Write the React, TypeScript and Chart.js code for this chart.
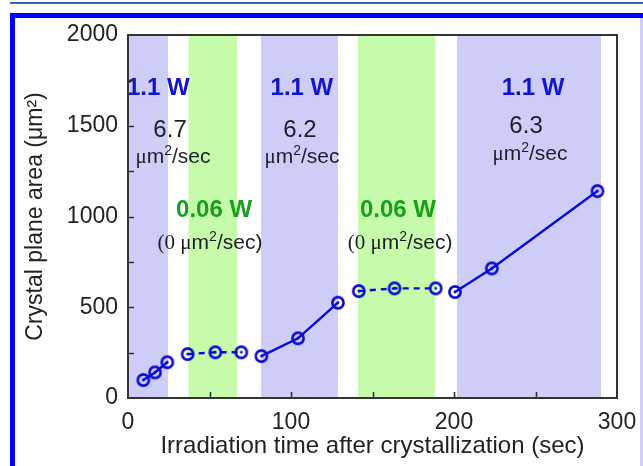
import React, { useEffect, useRef } from 'react';
import { Chart, registerables } from 'chart.js';

Chart.register(...registerables);

// ---- data ----
// 1.1 W segments (solid) and 0.06 W segments (dashed)
const time1 = [9.4, 16.6, 24.1];
const area1 = [99, 141, 197];
const time2 = [36.6, 53.6, 69.5];
const area2 = [242, 252, 252];
const time3 = [81.8, 104.3, 128.8];
const area3 = [231, 329, 525];
const time4 = [141.6, 163.5, 188.8];
const area4 = [589, 604, 604];
const time5 = [200.6, 223.2, 288.0];
const area5 = [584, 714, 1140];

// irradiation bands
const bandStart = [0, 37.1, 81.6, 141.1, 201.8];
const bandEnd = [24.5, 66.9, 128.8, 188.3, 290.2];
const bandPower = ['high', 'low', 'high', 'low', 'high'];

// annotations
const powerText = ['1.1 W', '1.1 W', '1.1 W', '0.06 W', '0.06 W'];
const powerKind = ['high', 'high', 'high', 'low', 'low'];
const powerX = [18.6, 106.7, 248.5, 52.8, 165.6];
const powerY = [1719, 1719, 1719, 1047, 1047];
const rateText = ['6.7', '6.2', '6.3'];
const rateX = [25.8, 105.5, 244.2];
const rateY = [1488, 1488, 1510];
const unitX = [27.6, 106.7, 246.6];
const unitY = [1339, 1339, 1355];
const zeroRateX = [50.3, 166.9];
const zeroRateY = [865, 865];

const xTickLabels = [0, 100, 200, 300];
const yTickLabels = [0, 500, 1000, 1500, 2000];

const SANS = '"Liberation Sans", Arial, Helvetica, sans-serif';
const SERIF = '"Liberation Serif", "Times New Roman", serif';
const LINE_BLUE = '#0a0ad2';
const BAND_BLUE = '#cdcdf8';
const BAND_GREEN = '#c6fbab';
const TXT_BLUE = '#1414cc';
const TXT_GREEN = '#18a01c';
const TXT_DARK = '#1e1e2a';

function makeMarker(color: string) {
  const c = document.createElement('canvas');
  c.width = 16;
  c.height = 16;
  const g = c.getContext('2d')!;
  g.strokeStyle = color;
  g.lineWidth = 2.6;
  g.beginPath();
  g.arc(8, 8, 5.6, 0, Math.PI * 2);
  g.stroke();
  g.fillStyle = color;
  g.beginPath();
  g.arc(8, 8, 1.4, 0, Math.PI * 2);
  g.fill();
  return c;
}

type Run = { t: string; f: string; s: number; w?: string; up?: number };

function drawRuns(ctx: CanvasRenderingContext2D, runs: Run[], cx: number, cy: number, color: string) {
  ctx.fillStyle = color;
  ctx.textBaseline = 'alphabetic';
  ctx.textAlign = 'left';
  let total = 0;
  let maxS = 0;
  const widths: number[] = [];
  for (const r of runs) {
    ctx.font = `${r.w || 'normal'} ${r.s}px ${r.f}`;
    const w = ctx.measureText(r.t).width;
    widths.push(w);
    total += w;
    maxS = Math.max(maxS, r.s);
  }
  let xx = cx - total / 2;
  const base = cy + maxS * 0.36;
  runs.forEach((r, i) => {
    ctx.font = `${r.w || 'normal'} ${r.s}px ${r.f}`;
    ctx.fillText(r.t, xx, base - (r.up || 0));
    xx += widths[i];
  });
}

const unitRuns = (prefix: string, suffix: string): Run[] => [
  { t: prefix + 'μ', f: SERIF, s: 21 },
  { t: 'm', f: SANS, s: 21 },
  { t: '2', f: SANS, s: 14, up: 8 },
  { t: '/sec' + suffix, f: SANS, s: 21 },
];

const decorPlugin = {
  id: 'decor',
  beforeDatasetsDraw(chart: any) {
    const { ctx, chartArea: a, scales } = chart;
    const x = scales.x;
    const y = scales.y;
    ctx.save();
    ctx.beginPath();
    ctx.rect(a.left, a.top, a.right - a.left, a.bottom - a.top);
    ctx.clip();
    bandStart.forEach((s, i) => {
      const x0 = x.getPixelForValue(s);
      const x1 = x.getPixelForValue(bandEnd[i]);
      ctx.fillStyle = bandPower[i] === 'high' ? BAND_BLUE : BAND_GREEN;
      ctx.fillRect(x0, a.top, x1 - x0, a.bottom - a.top);
    });
    powerText.forEach((t, i) => {
      drawRuns(
        ctx,
        [{ t, f: SANS, s: 24, w: 'bold' }],
        x.getPixelForValue(powerX[i]),
        y.getPixelForValue(powerY[i]),
        powerKind[i] === 'high' ? TXT_BLUE : TXT_GREEN
      );
    });
    rateText.forEach((t, i) => {
      drawRuns(ctx, [{ t, f: SANS, s: 24 }], x.getPixelForValue(rateX[i]), y.getPixelForValue(rateY[i]), TXT_DARK);
      drawRuns(ctx, unitRuns('', ''), x.getPixelForValue(unitX[i]), y.getPixelForValue(unitY[i]), TXT_DARK);
    });
    zeroRateX.forEach((v, i) => {
      drawRuns(ctx, unitRuns('(0 ', ')'), x.getPixelForValue(v), y.getPixelForValue(zeroRateY[i]), TXT_DARK);
    });
    ctx.restore();
  },
  afterDatasetsDraw(chart: any) {
    const { ctx, chartArea: a, scales } = chart;
    const x = scales.x;
    const y = scales.y;
    ctx.save();
    ctx.strokeStyle = '#333333';
    ctx.lineWidth = 1.6;
    ctx.beginPath();
    for (const t of x.ticks) {
      if (t.value <= x.min || t.value >= x.max) continue;
      const px = Math.round(x.getPixelForValue(t.value)) + 0.5;
      ctx.moveTo(px, a.bottom);
      ctx.lineTo(px, a.bottom - 6);
    }
    for (const t of y.ticks) {
      if (t.value <= y.min || t.value >= y.max) continue;
      const py = Math.round(y.getPixelForValue(t.value)) + 0.5;
      ctx.moveTo(a.left, py);
      ctx.lineTo(a.left + 6, py);
    }
    ctx.stroke();
    ctx.lineWidth = 2;
    ctx.strokeRect(a.left, a.top, a.right - a.left, a.bottom - a.top);
    ctx.restore();
  },
};

function seg(xs: number[], ys: number[], dashed: boolean, marker: HTMLCanvasElement) {
  return {
    data: xs.map((v, i) => ({ x: v, y: ys[i] })),
    borderColor: LINE_BLUE,
    backgroundColor: 'rgba(0,0,0,0)',
    borderWidth: 2.4,
    borderDash: dashed ? [6, 5] : [],
    pointStyle: marker,
    pointRadius: 7,
    pointHoverRadius: 7,
    showLine: true,
    tension: 0,
    fill: false,
  };
}

export default function App() {
  const ref = useRef<HTMLCanvasElement>(null);
  useEffect(() => {
    const marker = makeMarker(LINE_BLUE);
    const chart = new Chart(ref.current!, {
      type: 'line',
      data: {
        datasets: [
          seg(time1, area1, false, marker),
          seg(time2, area2, true, marker),
          seg(time3, area3, false, marker),
          seg(time4, area4, true, marker),
          seg(time5, area5, false, marker),
        ] as any,
      },
      options: {
        responsive: false,
        animation: false,
        layout: { autoPadding: false, padding: { top: 35, right: 26, left: 0, bottom: 0 } },
        plugins: { legend: { display: false }, tooltip: { enabled: false } },
        scales: {
          x: {
            type: 'linear',
            min: 0,
            max: 300,
            afterFit: (s: any) => {
              s.height = 68;
              s.paddingLeft = 0;
              s.paddingRight = 0;
            },
            grid: { display: false, drawTicks: false },
            border: { display: false },
            ticks: {
              stepSize: 50,
              autoSkip: false,
              maxRotation: 0,
              padding: 11,
              color: '#222',
              font: { family: SANS, size: 23 },
              callback: (v: any) => (xTickLabels.includes(Number(v)) ? String(v) : ''),
            },
            title: {
              display: true,
              text: 'Irradiation time after crystallization (sec)',
              color: '#222',
              font: { family: SANS, size: 24 },
              padding: { top: 0, bottom: 5 },
            },
          },
          y: {
            type: 'linear',
            min: 0,
            max: 2000,
            afterFit: (s: any) => {
              s.width = 128;
              s.paddingTop = 0;
              s.paddingBottom = 0;
            },
            grid: { display: false, drawTicks: false },
            border: { display: false },
            ticks: {
              stepSize: 250,
              autoSkip: false,
              padding: 10,
              color: '#222',
              font: { family: SANS, size: 23 },
              callback: (v: any) => (yTickLabels.includes(Number(v)) ? String(v) : ''),
            },
            title: {
              display: true,
              text: 'Crystal plane area (μm²)',
              color: '#222',
              font: { family: SANS, size: 23 },
              padding: { top: 22, bottom: 0 },
            },
          },
        },
      } as any,
      plugins: [decorPlugin],
    });
    return () => chart.destroy();
  }, []);

  return (
    <div style={{ position: 'absolute', left: 0, top: 0, width: 643, height: 466, background: '#fff', overflow: 'hidden' }}>
      <div style={{ position: 'absolute', left: 10, top: 2, right: 0, height: 2, background: '#2c6aa9' }} />
      <div
        style={{
          position: 'absolute',
          left: 10,
          top: 13,
          width: 640,
          height: 470,
          borderTop: '5px solid #0000ff',
          borderLeft: '5px solid #0000ff',
          boxSizing: 'border-box',
        }}
      />
      <div style={{ position: 'absolute', left: 640, top: 18, width: 3, height: 448, background: '#cfcff6' }} />
      <canvas ref={ref} width={643} height={466} style={{ position: 'absolute', left: 0, top: 0, width: 643, height: 466 }} />
    </div>
  );
}
